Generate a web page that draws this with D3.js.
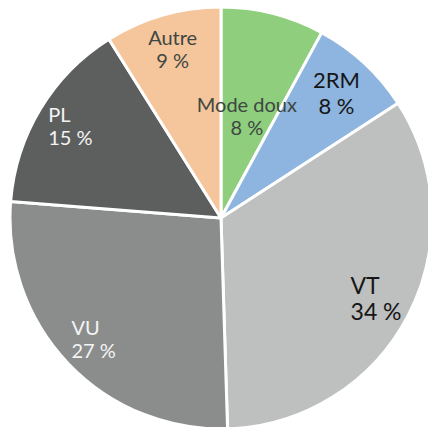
<!DOCTYPE html>
<html>
<head>
<meta charset="utf-8">
<script src="https://cdn.jsdelivr.net/npm/d3@7"></script>
<style>
  html, body { margin: 0; padding: 0; background: #fff; }
  svg { display: block; }
</style>
</head>
<body>
<div class="chart"></div>
<script>
// parts (clockwise from the top)
const categories = ["Mode doux", "2RM", "VT", "VU", "PL", "Autre"];
const shares = [8, 8, 34, 27, 15, 9];

const colors = ["#8fce7c", "#8db5df", "#bebfbf", "#8b8d8d", "#5d5f5f", "#f5c59b"];
const labelStyle = {
  "Mode doux": { r: 105, anchor: "middle", fill: "#3e4743", size: 20 },
  "2RM":       { r: 170, anchor: "middle", fill: "#161616", size: 22 },
  "VT":        { r: 175, anchor: "start",  fill: "#161616", size: 23 },
  "VU":        { r: 176, anchor: "start",  fill: "#f4f4f4", size: 20 },
  "PL":        { r: 176, anchor: "start",  fill: "#f4f4f4", size: 20 },
  "Autre":     { r: 175, anchor: "middle", fill: "#3e4743", size: 20 }
};

const width = 428, height = 427;
const cx = 221, cy = 218, radius = 211;

const svg = d3.select(".chart").append("svg")
  .attr("width", width)
  .attr("height", height);

const g = svg.append("g")
  .attr("transform", `translate(${cx},${cy})`);

const pie = d3.pie().sort(null).value(d => d.value);
const arc = d3.arc().innerRadius(0).outerRadius(radius);

const data = categories.map((c, i) => ({ name: c, value: shares[i], color: colors[i] }));
const arcs = pie(data);

g.selectAll("path.slice")
  .data(arcs)
  .enter()
  .append("path")
  .attr("class", "slice")
  .attr("d", arc)
  .attr("fill", d => d.data.color)
  .attr("stroke", "#fff")
  .attr("stroke-width", 3)
  .attr("stroke-linejoin", "round");

// labels
const labels = g.selectAll("g.label")
  .data(arcs)
  .enter()
  .append("g")
  .attr("class", "label");

labels.each(function (d) {
  const st = labelStyle[d.data.name];
  const pos = d3.arc().innerRadius(st.r).outerRadius(st.r).centroid(d);
  const lineH = st.size * 1.15;
  const t = d3.select(this).append("text")
    .attr("font-family", "Lato, 'Open Sans', sans-serif")
    .attr("font-size", st.size)
    .attr("fill", st.fill)
    .attr("text-anchor", st.anchor);
  const lines = [d.data.name, d.data.value + " %"];
  lines.forEach((s, i) => {
    t.append("tspan")
      .attr("x", 0)
      .attr("y", (i - 0.5) * lineH + st.size * 0.35)
      .text(s);
  });
  let x = pos[0];
  if (st.anchor === "start") {
    const w = t.node().getBBox().width;
    x = pos[0] - w / 2;
  }
  t.attr("transform", `translate(${x},${pos[1]})`);
});
</script>
</body>
</html>
